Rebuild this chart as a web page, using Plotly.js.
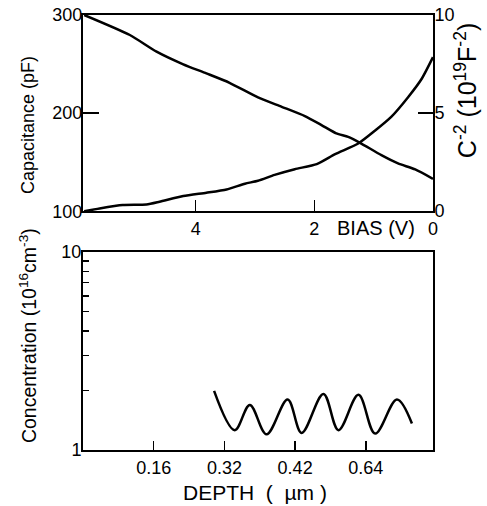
<!DOCTYPE html>
<html>
<head>
<meta charset="utf-8">
<script src="https://cdn.plot.ly/plotly-3.0.1.min.js"></script>
<style>html,body{margin:0;padding:0;background:#fff;}#chart{width:487px;height:506px;}</style>
</head>
<body>
<div id="chart"></div>
<script>
// Top panel: C-V data (bias in V, reversed axis)
var biasCap = [5.88, 5.11, 4.66, 4.21, 3.82, 3.43, 2.95, 2.55, 2.16, 1.88, 1.63, 1.43, 1.23, 0.87, 0.59, 0.30, 0.0];
var capacitance = [300, 279.6, 262.6, 249.7, 240.5, 230.9, 216, 206.4, 196.9, 187.8, 179.3, 175.8, 169.7, 157.1, 148.7, 142.6, 133];
var biasInv = [5.88, 5.62, 5.23, 4.83, 4.61, 4.21, 3.82, 3.48, 3.17, 2.95, 2.67, 2.33, 1.96, 1.65, 1.26, 0.98, 0.70, 0.42, 0.19, 0.0];
var invCap2 = [0, 0.14, 0.31, 0.34, 0.48, 0.77, 0.94, 1.11, 1.40, 1.55, 1.85, 2.14, 2.40, 2.91, 3.45, 4.10, 4.82, 5.81, 6.75, 7.85];
var biasTicks = [4, 2, 0];
var capTicks = [100, 200, 300];
var invTicks = [0, 5, 10];

// Bottom panel: concentration profile (depth positions on tick scale)
var depthPos = [1.854, 2.146, 2.359, 2.596, 2.894, 3.092, 3.40, 3.613, 3.896, 4.132, 4.44, 4.652];
var concentration = [1.99, 1.26, 1.69, 1.20, 1.80, 1.22, 1.92, 1.26, 1.90, 1.21, 1.80, 1.36];
var depthTickPos = [1, 2, 3, 4];
var depthTickText = ['0.16', '0.32', '0.42', '0.64'];
var concTicks = [1, 10];
var concMinorTicks = [2, 3, 4, 5, 6, 7, 8, 9];

var numFont = {family: 'Liberation Sans, Arial, sans-serif', size: 18, color: '#000'};

var traces = [
  {x: biasCap, y: capacitance, xaxis: 'x', yaxis: 'y', mode: 'lines',
   line: {color: '#000', width: 2.5, shape: 'spline', smoothing: 0.6}, hoverinfo: 'skip'},
  {x: biasInv, y: invCap2, xaxis: 'x', yaxis: 'y2', mode: 'lines',
   line: {color: '#000', width: 2.5, shape: 'spline', smoothing: 0.6}, hoverinfo: 'skip'},
  {x: depthPos, y: concentration, xaxis: 'x2', yaxis: 'y3', mode: 'lines',
   line: {color: '#000', width: 2.5, shape: 'spline', smoothing: 1}, hoverinfo: 'skip'}
];

var axCommon = {showgrid: false, zeroline: false, showline: true, linecolor: '#000', linewidth: 2,
  ticks: 'inside', tickcolor: '#000', tickwidth: 1.5, tickfont: numFont, mirror: true};

function f(size) { return {family: 'Liberation Sans, Arial, sans-serif', size: size, color: '#000'}; }

var layout = {
  width: 487, height: 506,
  margin: {l: 83, r: 54, t: 15, b: 56},
  paper_bgcolor: '#fff', plot_bgcolor: '#fff',
  showlegend: false,
  xaxis: Object.assign({}, axCommon, {domain: [0, 1], anchor: 'y', range: [5.9, 0],
    tickvals: biasTicks, ticklen: 11}),
  yaxis: Object.assign({}, axCommon, {domain: [0.549, 1], anchor: 'x', range: [100, 300],
    tickvals: capTicks, ticklen: 16, ticklabelstandoff: -5}),
  yaxis2: Object.assign({}, axCommon, {overlaying: 'y', side: 'right', anchor: 'x', range: [0, 10],
    tickvals: invTicks, ticklen: 15, mirror: false, ticklabelstandoff: -4}),
  xaxis2: Object.assign({}, axCommon, {domain: [0, 1], anchor: 'y3', range: [0, 4.95],
    tickvals: depthTickPos, ticktext: depthTickText, ticklen: 9}),
  yaxis3: Object.assign({}, axCommon, {domain: [0, 0.455], anchor: 'x2', type: 'log', range: [0, 1],
    tickvals: concTicks, ticktext: ['1', '10'], ticklen: 6, ticklabelstandoff: -4,
    minor: {tickvals: concMinorTicks, ticks: 'inside', ticklen: 6, tickcolor: '#000', tickwidth: 1.5}}),
  annotations: [
    {text: 'Capacitance (pF)', xref: 'paper', yref: 'paper', x: -0.157, y: 0.747,
     xanchor: 'center', yanchor: 'middle', textangle: -90, showarrow: false, font: f(18)},
    {text: 'C<sup>-2</sup> (10<sup>19</sup>F<sup>-2</sup>)', xref: 'paper', yref: 'paper', x: 1.094, y: 0.827,
     xanchor: 'center', yanchor: 'middle', textangle: -90, showarrow: false, font: f(25)},
    {text: 'BIAS (V)', xref: 'paper', yref: 'paper', x: 0.837, y: 0.510,
     xanchor: 'center', yanchor: 'middle', showarrow: false, font: f(20)},
    {text: 'Concentration (10<sup>16</sup>cm<sup>-3</sup>)', xref: 'paper', yref: 'paper', x: -0.157, y: 0.262,
     xanchor: 'center', yanchor: 'middle', textangle: -90, showarrow: false, font: f(19.5)},
    {text: 'DEPTH  (  \u00b5m )', xref: 'paper', yref: 'paper', x: 0.491, y: -0.0966,
     xanchor: 'center', yanchor: 'middle', showarrow: false, font: f(21)}
  ]
};

Plotly.newPlot('chart', traces, layout, {displayModeBar: false, staticPlot: true});
</script>
</body>
</html>
